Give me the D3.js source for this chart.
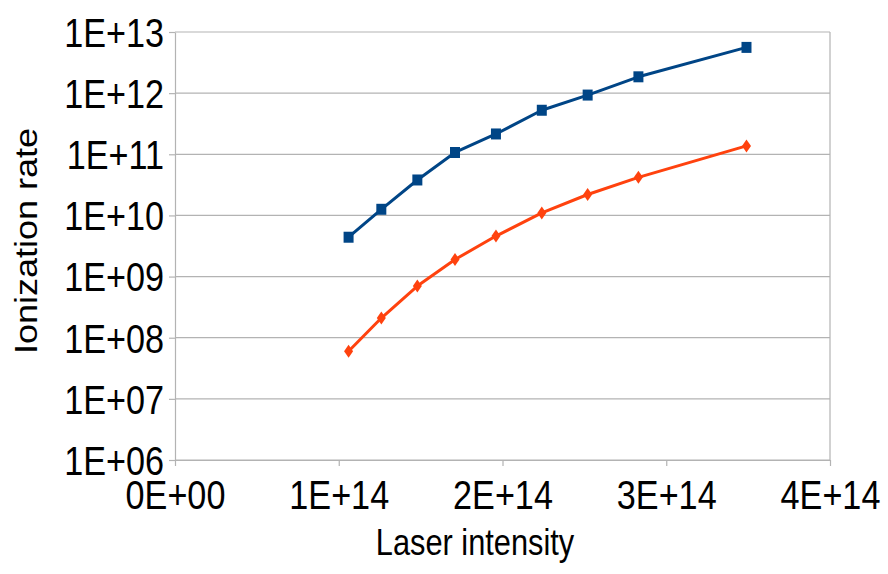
<!DOCTYPE html>
<html>
<head>
<meta charset="utf-8">
<script src="https://cdn.jsdelivr.net/npm/d3@7"></script>
<style>
  body { margin: 0; background: #fff; }
  text { font-family: "Liberation Sans", Arial, sans-serif; fill: #000; }
</style>
</head>
<body>
<div id="chart"></div>
<script>
// Data
var intensity = [1.06e14, 1.26e14, 1.48e14, 1.71e14, 1.96e14, 2.24e14, 2.52e14, 2.83e14, 3.49e14];
var rateBlue = [4.4e9, 1.26e10, 3.8e10, 1.07e11, 2.15e11, 5.25e11, 9.3e11, 1.85e12, 5.6e12];
var rateOrange = [6.0e7, 2.1e8, 7.0e8, 1.9e9, 4.6e9, 1.1e10, 2.2e10, 4.2e10, 1.37e11];

var xTicks = [0, 1e14, 2e14, 3e14, 4e14];
var xTickLabels = ["0E+00", "1E+14", "2E+14", "3E+14", "4E+14"];
var yTicks = [1e6, 1e7, 1e8, 1e9, 1e10, 1e11, 1e12, 1e13];
var yTickLabels = ["1E+06", "1E+07", "1E+08", "1E+09", "1E+10", "1E+11", "1E+12", "1E+13"];

// Layout
var width = 888;
var height = 574;
var plotLeft = 175, plotRight = 830, plotTop = 32, plotBottom = 460;
var squeeze = 0.855; // glyphs in the picture are narrower than normal
var gridColor = "#b3b3b3";

var svg = d3.select("#chart").append("svg")
  .attr("width", width)
  .attr("height", height);

var xScale = d3.scaleLinear().domain([0, 4e14]).range([plotLeft, plotRight]);
var yScale = d3.scaleLog().domain([1e6, 1e13]).range([plotBottom, plotTop]);

// horizontal grid lines
svg.append("g")
  .selectAll("line")
  .data(yTicks)
  .enter().append("line")
  .attr("x1", plotLeft).attr("x2", plotRight)
  .attr("y1", d => yScale(d)).attr("y2", d => yScale(d))
  .attr("stroke", gridColor)
  .attr("stroke-width", 1.2);

// right border
svg.append("line")
  .attr("x1", plotRight).attr("x2", plotRight)
  .attr("y1", plotTop).attr("y2", plotBottom)
  .attr("stroke", gridColor)
  .attr("stroke-width", 1.2);

/* Axes */
var yAxis = d3.axisLeft(yScale)
  .tickValues(yTicks)
  .tickSizeInner(6)
  .tickSizeOuter(0)
  .tickFormat((d, i) => yTickLabels[i]);

var yAxisGroup = svg.append("g")
  .attr("transform", `translate(${plotLeft},0)`)
  .call(yAxis);

var xAxis = d3.axisBottom(xScale)
  .tickValues(xTicks)
  .tickSizeInner(6)
  .tickSizeOuter(0)
  .tickFormat((d, i) => xTickLabels[i]);

var xAxisGroup = svg.append("g")
  .attr("transform", `translate(0,${plotBottom})`)
  .call(xAxis);

[yAxisGroup, xAxisGroup].forEach(g => {
  g.select(".domain").attr("stroke", gridColor).attr("stroke-width", 1.2);
  g.selectAll(".tick line").attr("stroke", gridColor).attr("stroke-width", 1.2);
  g.selectAll(".tick text")
    .attr("font-size", "40px")
    .attr("fill", "#000");
});

yAxisGroup.selectAll(".tick text")
  .attr("x", 0)
  .attr("dy", "0.36em")
  .attr("transform", `translate(-11,0) scale(${squeeze},1)`);

xAxisGroup.selectAll(".tick text")
  .attr("y", 0)
  .attr("dy", 0)
  .attr("transform", `translate(0,49) scale(${squeeze},1)`);

// axis titles
svg.append("text")
  .attr("text-anchor", "middle")
  .attr("font-size", "36px")
  .attr("transform", `translate(475,555) scale(${squeeze},1)`)
  .text("Laser intensity");

svg.append("text")
  .attr("text-anchor", "middle")
  .attr("font-size", "36px")
  .attr("fill", "#111")
  .attr("transform", `translate(37,241) scale(${squeeze},1) rotate(-90)`)
  .text("Ionization rate");

/* Series */
var series = [
  { values: rateBlue, color: "#004586", marker: "square" },
  { values: rateOrange, color: "#ff420e", marker: "diamond" }
];

var line = d3.line()
  .x(d => xScale(d[0]))
  .y(d => yScale(d[1]));

series.forEach(s => {
  var pts = intensity.map((x, i) => [x, s.values[i]]);

  svg.append("path")
    .attr("d", line(pts))
    .attr("fill", "none")
    .attr("stroke", s.color)
    .attr("stroke-width", 3)
    .attr("stroke-linejoin", "round");

  var marks = svg.append("g").selectAll("path.marker")
    .data(pts)
    .enter().append("path")
    .attr("class", "marker")
    .attr("fill", s.color)
    .attr("transform", d => `translate(${xScale(d[0])},${yScale(d[1])})`);

  if (s.marker === "square") {
    marks.attr("d", "M-5,-5.5H5V5.5H-5Z");
  } else {
    marks.attr("d", "M0,-6.5L4.5,0L0,6.5L-4.5,0Z");
  }
});
</script>
</body>
</html>
